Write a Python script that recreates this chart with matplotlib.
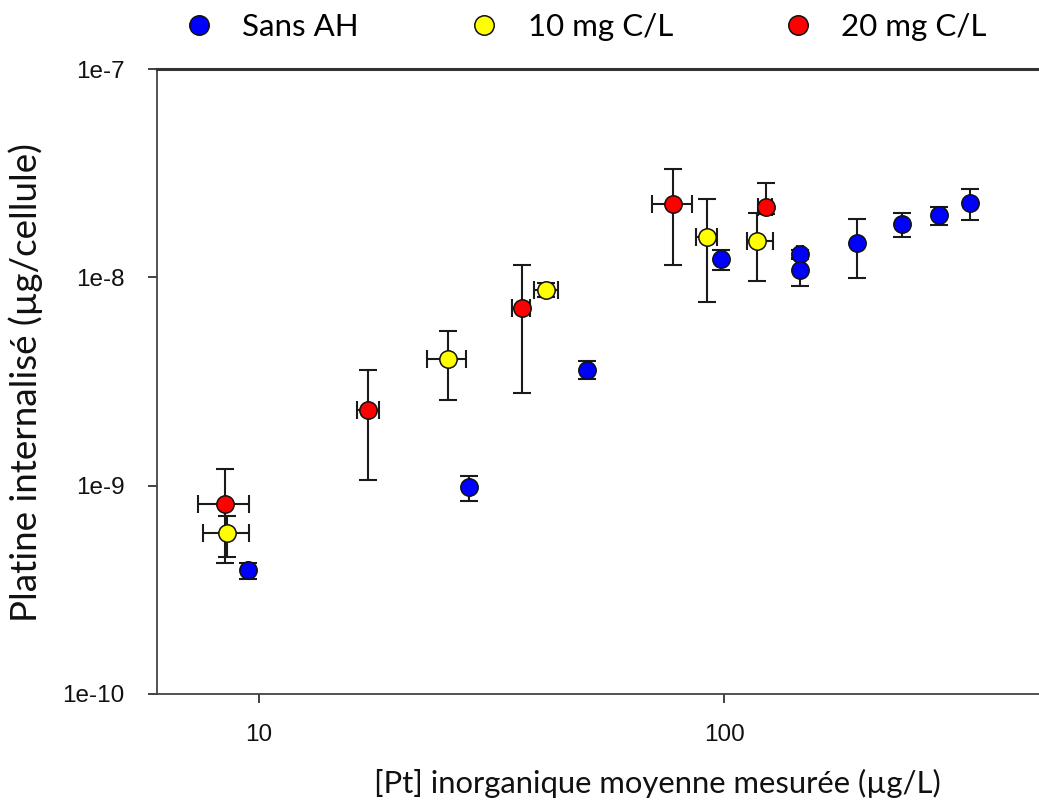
import matplotlib
matplotlib.use("Agg")
import matplotlib.pyplot as plt
import numpy as np

# ---- data ----
labels = ["Sans AH", "10 mg C/L", "20 mg C/L"]
colors = ["#0000FF", "#FFFF00", "#FF0000"]

blue_x = [9.46, 28.2, 50.8, 98.2, 145.5, 145.5, 193.2, 240.7, 289.5, 337.6]
blue_y = [3.94e-10, 9.85e-10, 3.61e-9, 1.22e-8, 1.29e-8, 1.09e-8, 1.46e-8, 1.80e-8, 1.99e-8, 2.28e-8]
blue_xlo = [9.46, 28.2, 50.8, 98.2, 143.0, 145.5, 193.2, 240.7, 289.5, 337.6]
blue_xhi = [9.46, 28.2, 50.8, 98.2, 148.0, 145.5, 193.2, 240.7, 289.5, 337.6]
blue_ylo = [3.57e-10, 8.44e-10, 3.26e-9, 1.08e-8, 1.24e-8, 9.12e-9, 9.89e-9, 1.57e-8, 1.78e-8, 1.88e-8]
blue_yhi = [4.26e-10, 1.11e-9, 3.96e-9, 1.35e-8, 1.36e-8, 1.22e-8, 1.91e-8, 2.03e-8, 2.18e-8, 2.65e-8]

yellow_x = [8.53, 25.5, 41.4, 91.6, 117.4]
yellow_y = [5.90e-10, 4.07e-9, 8.69e-9, 1.57e-8, 1.50e-8]
yellow_xlo = [7.58, 22.98, 39.0, 86.9, 112.1]
yellow_xhi = [9.49, 27.9, 44.0, 96.3, 127.5]
yellow_ylo = [4.56e-10, 2.58e-9, 8.07e-9, 7.61e-9, 9.63e-9]
yellow_yhi = [7.15e-10, 5.52e-9, 9.36e-9, 2.39e-8, 2.03e-8]

red_x = [8.43, 17.15, 36.7, 77.7, 122.7]
red_y = [8.16e-10, 2.32e-9, 7.15e-9, 2.25e-8, 2.18e-8]
red_xlo = [7.37, 16.25, 35.0, 69.8, 118.3]
red_xhi = [9.49, 18.06, 38.3, 85.1, 126.6]
red_ylo = [4.24e-10, 1.06e-9, 2.77e-9, 1.15e-8, 2.01e-8]
red_yhi = [1.20e-9, 3.59e-9, 1.14e-8, 3.30e-8, 2.83e-8]

xticks = [10, 100]
xtick_labels = ["10", "100"]
yticks = [1e-10, 1e-9, 1e-8, 1e-7]
ytick_labels = ["1e-10", "1e-9", "1e-8", "1e-7"]

xlabel = "[Pt] inorganique moyenne mesurée (µg/L)"
ylabel = "Platine internalisé (µg/cellule)"

# ---- figure ----
fig = plt.figure(figsize=(10.39, 8.08), dpi=100)
ax = fig.add_axes([157 / 1039, 1 - 694 / 808, 1 - 157 / 1039, (694 - 69) / 808])
ax.set_xscale("log")
ax.set_yscale("log")
ax.set_xlim(6.03, 475)
ax.set_ylim(1e-10, 1e-7)

series = [
    (blue_x, blue_y, blue_xlo, blue_xhi, blue_ylo, blue_yhi),
    (yellow_x, yellow_y, yellow_xlo, yellow_xhi, yellow_ylo, yellow_yhi),
    (red_x, red_y, red_xlo, red_xhi, red_ylo, red_yhi),
]
handles = []
for (x, y, xlo, xhi, ylo, yhi), col, lab in zip(series, colors, labels):
    x = np.array(x); y = np.array(y)
    xerr = np.vstack([x - np.array(xlo), np.array(xhi) - x])
    yerr = np.vstack([y - np.array(ylo), np.array(yhi) - y])
    ax.errorbar(x, y, xerr=xerr, yerr=yerr, fmt="none", ecolor="#1a1a1a",
                elinewidth=1.5, capsize=6.8, capthick=1.5, zorder=2)
    h = ax.plot(x, y, "o", ms=12.5, mfc=col, mec="#111111", mew=1.1,
                linestyle="none", label=lab, zorder=3)[0]
    handles.append(h)

ax.spines["right"].set_visible(False)
ax.spines["top"].set_linewidth(2.2)
ax.spines["top"].set_color("#333333")
for s in ["left", "bottom"]:
    ax.spines[s].set_linewidth(1.3)
    ax.spines[s].set_color("#444444")

ax.set_xticks(xticks)
ax.set_xticklabels(xtick_labels)
ax.set_yticks(yticks)
ax.set_yticklabels(ytick_labels)
ax.minorticks_off()
ax.tick_params(axis="both", direction="out", length=6.5, width=1.3, color="#333333",
               labelsize=17.5, labelcolor="#111111")
ax.tick_params(axis="x", pad=15)
ax.tick_params(axis="y", pad=17)
for lab in ax.get_xticklabels() + ax.get_yticklabels():
    lab.set_fontfamily("Liberation Sans")

fig.text(657 / 1039, 1 - 783 / 808, xlabel, ha="center", va="center",
         fontsize=22.3, family="Lato", color="#111111")
fig.text(26 / 1039, 1 - 383 / 808, ylabel, ha="center", va="center",
         rotation=90, fontsize=26.5, family="Lato", color="#111111")

fig.legend(handles=handles, labels=labels, loc="center", ncol=3,
           bbox_to_anchor=(585 / 1039, 1 - 27 / 808), frameon=False,
           prop={"family": "Lato", "size": 22.5}, handlelength=1.0,
           handletextpad=0.89, columnspacing=3.5, markerscale=1.12)

fig.savefig("out.png", dpi=100)
